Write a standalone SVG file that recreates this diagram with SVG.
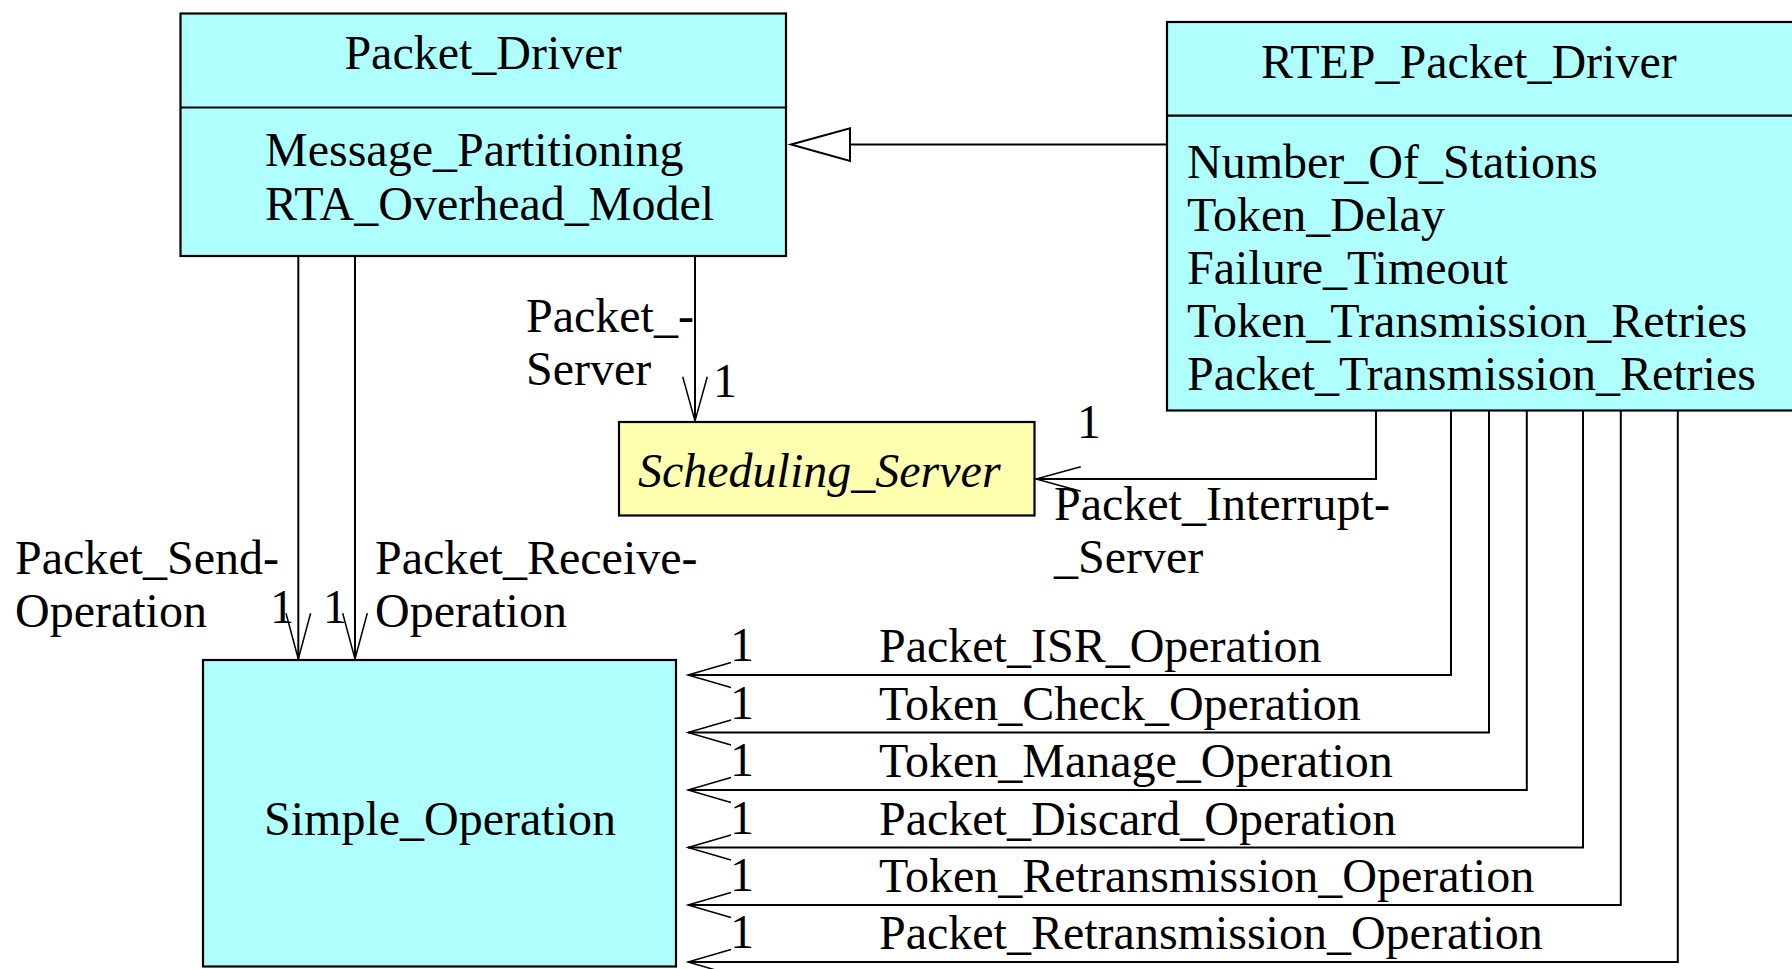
<svg xmlns="http://www.w3.org/2000/svg" width="1792" height="969" viewBox="0 0 1792 969">
<style>
.box{fill:#b0ffff;stroke:#000;stroke-width:2.2}
.ybox{fill:#ffffb0;stroke:#000;stroke-width:2.2}
.div{stroke:#000;stroke-width:2.2}
.t{font-family:"Liberation Serif","Times New Roman",serif;font-size:48px;fill:#000}
.it{font-style:italic}
.mid{text-anchor:middle}
.ln{fill:none;stroke:#000;stroke-width:2}
.arr{fill:none;stroke:#000;stroke-width:1.5}
.gen{fill:#fff;stroke:#000;stroke-width:2}
</style>
<rect width="1792" height="969" fill="#fff"/>
<g id="connectors">
  <line class="ln" x1="1167" y1="144.5" x2="850" y2="144.5"/>
  <polygon class="gen" points="791,144.5 850,128.3 850,161"/>
  <line class="ln" x1="695" y1="256" x2="695" y2="421"/>
  <polyline class="arr" points="682.7,376.7 695,421 707.3,376.7"/>
  <line class="ln" x1="298.3" y1="256" x2="298.3" y2="659"/>
  <polyline class="arr" points="286,613.3 298.3,659 310.6,613.3"/>
  <line class="ln" x1="355" y1="256" x2="355" y2="659"/>
  <polyline class="arr" points="342.7,613.3 355,659 367.3,613.3"/>
  <polyline class="ln" points="1376,410 1376,479 1036,479"/>
  <polyline class="arr" points="1080.8,466.7 1036,479 1080.8,491.3"/>
  <polyline class="ln" points="1451,410 1451,675 688,675"/>
  <polyline class="arr" points="731,662.5 688,675 731,687.5"/>
  <polyline class="ln" points="1489,410 1489,732.5 688,732.5"/>
  <polyline class="arr" points="731,720 688,732.5 731,745"/>
  <polyline class="ln" points="1526.8,410 1526.8,790 688,790"/>
  <polyline class="arr" points="731,777.5 688,790 731,802.5"/>
  <polyline class="ln" points="1583,410 1583,847.5 688,847.5"/>
  <polyline class="arr" points="731,835 688,847.5 731,860"/>
  <polyline class="ln" points="1620.8,410 1620.8,905 688,905"/>
  <polyline class="arr" points="731,892.5 688,905 731,917.5"/>
  <polyline class="ln" points="1677.8,410 1677.8,962 688,962"/>
  <polyline class="arr" points="731,949.5 688,962 731,974.5"/>
  <text class="t" x="526" y="332">Packet_-</text>
  <text class="t" x="526" y="385">Server</text>
  <text class="t" x="713" y="397">1</text>
  <text class="t" x="15" y="574">Packet_Send-</text>
  <text class="t" x="15" y="627">Operation</text>
  <text class="t" x="270" y="623">1</text>
  <text class="t" x="323" y="623">1</text>
  <text class="t" x="375" y="574">Packet_Receive-</text>
  <text class="t" x="375" y="627">Operation</text>
  <text class="t" x="1077" y="438">1</text>
  <text class="t" x="1054" y="520">Packet_Interrupt-</text>
  <text class="t" x="1054" y="573">_Server</text>
  <text class="t" x="730" y="661">1</text>
  <text class="t" x="879" y="662">Packet_ISR_Operation</text>
  <text class="t" x="730" y="718.5">1</text>
  <text class="t" x="879" y="719.5">Token_Check_Operation</text>
  <text class="t" x="730" y="776">1</text>
  <text class="t" x="879" y="777">Token_Manage_Operation</text>
  <text class="t" x="730" y="833.5">1</text>
  <text class="t" x="879" y="834.5">Packet_Discard_Operation</text>
  <text class="t" x="730" y="891">1</text>
  <text class="t" x="879" y="892">Token_Retransmission_Operation</text>
  <text class="t" x="730" y="948">1</text>
  <text class="t" x="879" y="949">Packet_Retransmission_Operation</text>
</g>
<g id="Packet_Driver">
  <rect class="box" x="180.5" y="13.5" width="605.5" height="242.5"/>
  <line class="div" x1="180.5" y1="107.5" x2="786" y2="107.5"/>
  <text class="t mid" x="483" y="69">Packet_Driver</text>
  <text class="t" x="265" y="166">Message_Partitioning</text>
  <text class="t" x="265" y="220">RTA_Overhead_Model</text>
</g>
<g id="RTEP_Packet_Driver">
  <rect class="box" x="1167" y="22" width="640" height="388.5"/>
  <line class="div" x1="1167" y1="115.7" x2="1792" y2="115.7"/>
  <text class="t" x="1261" y="78">RTEP_Packet_Driver</text>
  <text class="t" x="1187" y="178">Number_Of_Stations</text>
  <text class="t" x="1187" y="231">Token_Delay</text>
  <text class="t" x="1187" y="284">Failure_Timeout</text>
  <text class="t" x="1187" y="337">Token_Transmission_Retries</text>
  <text class="t" x="1187" y="390">Packet_Transmission_Retries</text>
</g>
<g id="Scheduling_Server">
  <rect class="ybox" x="619" y="422" width="415.5" height="93.5"/>
  <text class="t it" x="638" y="487">Scheduling_Server</text>
</g>
<g id="Simple_Operation">
  <rect class="box" x="203" y="660" width="473" height="306.5"/>
  <text class="t mid" x="440" y="835">Simple_Operation</text>
</g>
</svg>
